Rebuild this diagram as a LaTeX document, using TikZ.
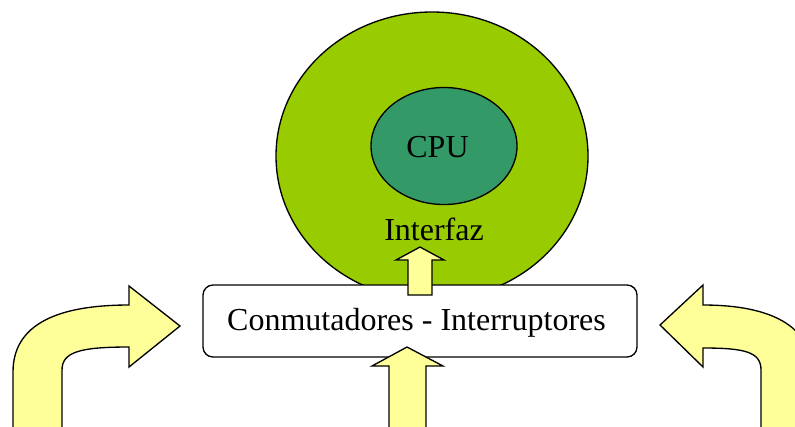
\documentclass[tikz,border=0pt]{standalone}
\usepackage{fontspec}
\setmainfont{Liberation Serif}
\usepackage{tikz}
\usetikzlibrary{shapes.geometric}
\usetikzlibrary{positioning}

\definecolor{ringgreen}{HTML}{99CC00}
\definecolor{coregreen}{HTML}{339966}
\definecolor{arrowyellow}{HTML}{FFFF99}

\begin{document}
\begin{tikzpicture}[x=0.75pt,y=-0.75pt,line width=1pt,
	every node/.style={font=\fontsize{24}{28}\selectfont},
	ring/.style={ellipse,draw,fill=ringgreen,inner sep=0pt},
	core/.style={ellipse,draw,fill=coregreen,inner sep=0pt},
	switch box/.style={rectangle,rounded corners=7.5pt,draw,fill=white},
	block arrow/.style={draw,fill=arrowyellow,line join=miter}]
	
	\useasboundingbox (0,0) rectangle (795,426);
	\clip (0,0) rectangle (795,426);
	
	\node[ring,minimum width=234pt,minimum height=216pt] (iface) at (432,156) {};
	\node[core,minimum width=109.5pt,minimum height=87.75pt] (cpu) at (444,146) {};
	\node[anchor=base] (cputxt) at (437.5,157) {CPU};
	\node[anchor=base] (ifacetxt) at (434,240) {Interfaz};
	\node[switch box,minimum width=325.5pt,minimum height=54pt] (sw) at (420,321) {};
	\node[anchor=base] (swtxt) at (416.5,330) {Conmutadores - Interruptores};
	
	% flechas
	\draw[block arrow] (408,295) -- (408,260) -- (396,260) -- (420,247)
		-- (444,260) -- (432,260) -- (432,295) -- cycle;
	\draw[block arrow] (389,432) -- (389,366) -- (372,366) -- (407,347)
		-- (443,366) -- (426,366) -- (426,432) -- cycle;
	\draw[block arrow] (13,432) -- (13,372) .. controls (13,318) and (70,305) .. (129,305)
		-- (129,286) -- (180,326) -- (129,367) -- (129,347)
		.. controls (80,347) and (62,352) .. (62,370) -- (62,432) -- cycle;
	\draw[block arrow] (812,432) -- (812,372) .. controls (812,320) and (760,305) .. (703,305)
		-- (703,285) -- (660,325) -- (703,367) -- (703,348)
		.. controls (745,348) and (761,352) .. (761,370) -- (761,432) -- cycle;
\end{tikzpicture}
\end{document}
